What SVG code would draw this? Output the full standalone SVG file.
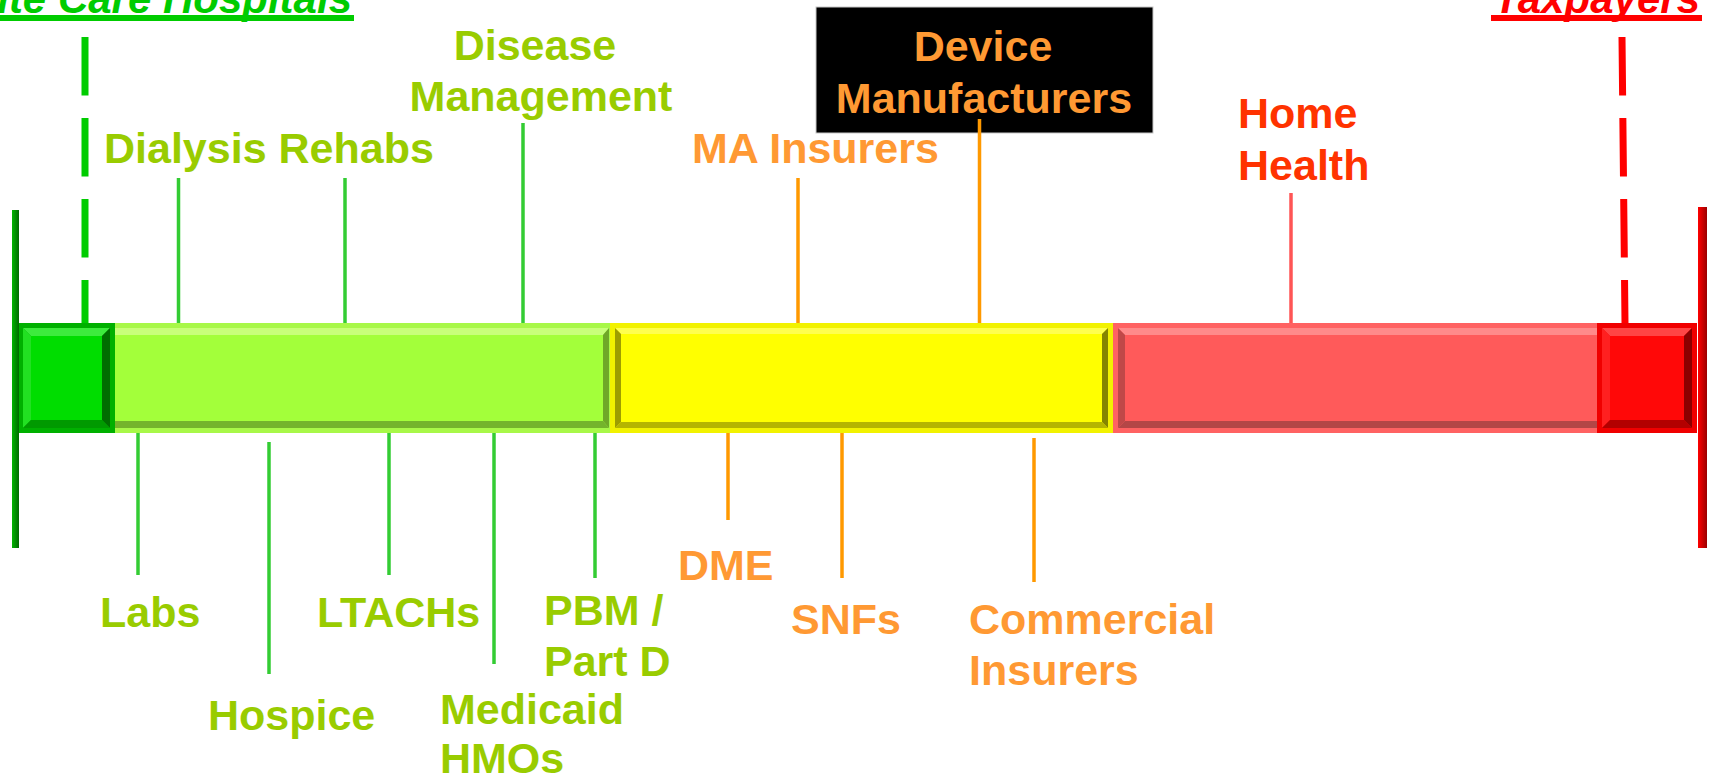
<svg xmlns="http://www.w3.org/2000/svg" width="1710" height="780" viewBox="0 0 1710 780">
<defs>
<style>
.lbl{font-family:"Liberation Sans",Arial,Helvetica,sans-serif;font-weight:bold;font-size:43px}
.ttl{font-style:italic;font-size:42px}
.g{fill:#99CC00}.o{fill:#FF9933}.r{fill:#FF3300}
.tg{stroke:#33CC33;stroke-width:3.5;fill:none}
.to{stroke:#FF9900;stroke-width:3.5;fill:none}
.tr{stroke:#FF5555;stroke-width:3.5;fill:none}
.dg{stroke:#00CC00;stroke-width:7;stroke-dasharray:58.5 22.5;fill:none}
.dr{stroke:#FF0000;stroke-width:7;stroke-dasharray:58.5 22.5;fill:none}
</style>
<linearGradient id="axG" x1="0" y1="0" x2="1" y2="0"><stop offset="0" stop-color="#00B400"/><stop offset="1" stop-color="#006A00"/></linearGradient>
<linearGradient id="axR" x1="0" y1="0" x2="1" y2="0"><stop offset="0" stop-color="#FF0000"/><stop offset="1" stop-color="#9A0000"/></linearGradient>
</defs>
<rect width="1710" height="780" fill="#FFFFFF"/>

<g id="bar-green">
<rect x="88" y="323" width="526" height="110" fill="#A8F848"/>
<polygon points="93,328 609,328 603,335 99,335" fill="#C8FF7A"/>
<polygon points="93,328 99,335 99,421 93,428" fill="#80C830"/>
<polygon points="609,328 609,428 603,421 603,335" fill="#6FA828"/>
<polygon points="93,428 99,421 603,421 609,428" fill="#74B42C"/>
<rect x="99" y="335" width="504" height="86" fill="#A3FF3A"/>
</g>

<g id="bar-red">
<rect x="1113" y="323" width="497" height="110" fill="#FF6262"/>
<polygon points="1118,328 1605,328 1599,335 1125,335" fill="#FF8A8A"/>
<polygon points="1118,328 1125,335 1125,421 1118,428" fill="#C04848"/>
<polygon points="1605,328 1605,428 1599,421 1599,335" fill="#A03C3C"/>
<polygon points="1118,428 1125,421 1599,421 1605,428" fill="#B44646"/>
<rect x="1125" y="335" width="474" height="86" fill="#FF5A5A"/>
</g>

<g id="bar-yellow">
<rect x="610" y="323" width="503" height="110" fill="#F2F200"/>
<polygon points="615,328 1108,328 1102,334 621,334" fill="#FFFF4D"/>
<polygon points="615,328 621,334 621,422 615,428" fill="#9E9E00"/>
<polygon points="1108,328 1108,428 1102,422 1102,334" fill="#858500"/>
<polygon points="615,428 621,422 1102,422 1108,428" fill="#B5B500"/>
<rect x="621" y="334" width="481" height="88" fill="#FFFF00"/>
</g>

<g id="acute-care-block">
<rect x="18" y="323" width="97" height="110" fill="#00B000"/>
<polygon points="23,328 110,328 102,336 31,336" fill="#3DEB3D"/>
<polygon points="23,328 31,336 31,420 23,428" fill="#22E022"/>
<polygon points="110,328 110,428 102,420 102,336" fill="#006E00"/>
<polygon points="23,428 31,420 102,420 110,428" fill="#009A00"/>
<rect x="31" y="336" width="71" height="84" fill="#00DD00"/>
</g>

<g id="taxpayer-block">
<rect x="1597" y="323" width="100" height="110" fill="#F00000"/>
<polygon points="1602,328 1692,328 1684,336 1610,336" fill="#FF4545"/>
<polygon points="1602,328 1610,336 1610,420 1602,428" fill="#FF2020"/>
<polygon points="1692,328 1692,428 1684,420 1684,336" fill="#8C0000"/>
<polygon points="1602,428 1610,420 1684,420 1692,428" fill="#B30000"/>
<rect x="1610" y="336" width="74" height="84" fill="#FF0808"/>
</g>

<g id="axis-left"><rect x="12" y="210" width="7" height="338" fill="url(#axG)"/></g>
<g id="axis-right"><rect x="1698" y="207" width="9" height="341" fill="url(#axR)"/></g>

<g id="device-manufacturers">
<rect x="816" y="7" width="337" height="126" fill="#000000" stroke="#C8C8C8" stroke-width="1"/>
<text class="lbl o" x="983" y="61" text-anchor="middle">Device</text>
<text class="lbl o" x="984" y="113" text-anchor="middle">Manufacturers</text>
</g>

<g id="connectors">
<line class="dg" x1="85" y1="37" x2="85" y2="323"/>
<line class="dr" x1="1622" y1="37" x2="1625" y2="323"/>
<line class="tg" x1="178.5" y1="178" x2="178.5" y2="323"/>
<line class="tg" x1="345" y1="178" x2="345" y2="323"/>
<line class="tg" x1="523" y1="123" x2="523" y2="323"/>
<line class="to" x1="798" y1="178" x2="798" y2="323"/>
<line class="to" x1="979.5" y1="119" x2="979.5" y2="323"/>
<line class="tr" x1="1291" y1="193" x2="1291" y2="323"/>
<line class="tg" x1="138" y1="433" x2="138" y2="575"/>
<line class="tg" x1="269" y1="442" x2="269" y2="674"/>
<line class="tg" x1="389" y1="433" x2="389" y2="575"/>
<line class="tg" x1="494" y1="433" x2="494" y2="664"/>
<line class="tg" x1="595" y1="433" x2="595" y2="578"/>
<line class="to" x1="728" y1="433" x2="728" y2="520"/>
<line class="to" x1="842" y1="433" x2="842" y2="578"/>
<line class="to" x1="1034" y1="438" x2="1034" y2="582"/>
</g>

<g id="acute-care-hospitals">
<text class="lbl ttl" x="352" y="13" text-anchor="end" fill="#00CC00">Acute Care Hospitals</text>
<rect x="0" y="15" width="354" height="6" fill="#00CC00"/>
</g>
<g id="taxpayers">
<text class="lbl ttl" x="1700" y="13" text-anchor="end" fill="#FF0000">Taxpayers</text>
<rect x="1491" y="15" width="211" height="6" fill="#FF0000"/>
</g>

<g id="dialysis-rehabs"><text class="lbl g" x="104" y="163">Dialysis Rehabs</text></g>
<g id="disease-management">
<text class="lbl g" x="535" y="60" text-anchor="middle">Disease</text>
<text class="lbl g" x="541" y="111" text-anchor="middle">Management</text>
</g>
<g id="ma-insurers"><text class="lbl o" x="692" y="163">MA Insurers</text></g>
<g id="home-health">
<text class="lbl r" x="1238" y="128">Home</text>
<text class="lbl r" x="1238" y="180">Health</text>
</g>
<g id="labs"><text class="lbl g" x="100" y="627">Labs</text></g>
<g id="hospice"><text class="lbl g" x="208" y="730">Hospice</text></g>
<g id="ltachs"><text class="lbl g" x="317" y="627">LTACHs</text></g>
<g id="medicaid-hmos">
<text class="lbl g" x="440" y="724">Medicaid</text>
<text class="lbl g" x="440" y="773">HMOs</text>
</g>
<g id="pbm-part-d">
<text class="lbl g" x="544" y="625">PBM /</text>
<text class="lbl g" x="544" y="676">Part D</text>
</g>
<g id="dme"><text class="lbl o" x="678" y="580">DME</text></g>
<g id="snfs"><text class="lbl o" x="791" y="634">SNFs</text></g>
<g id="commercial-insurers">
<text class="lbl o" x="969" y="634">Commercial</text>
<text class="lbl o" x="969" y="685">Insurers</text>
</g>
</svg>
